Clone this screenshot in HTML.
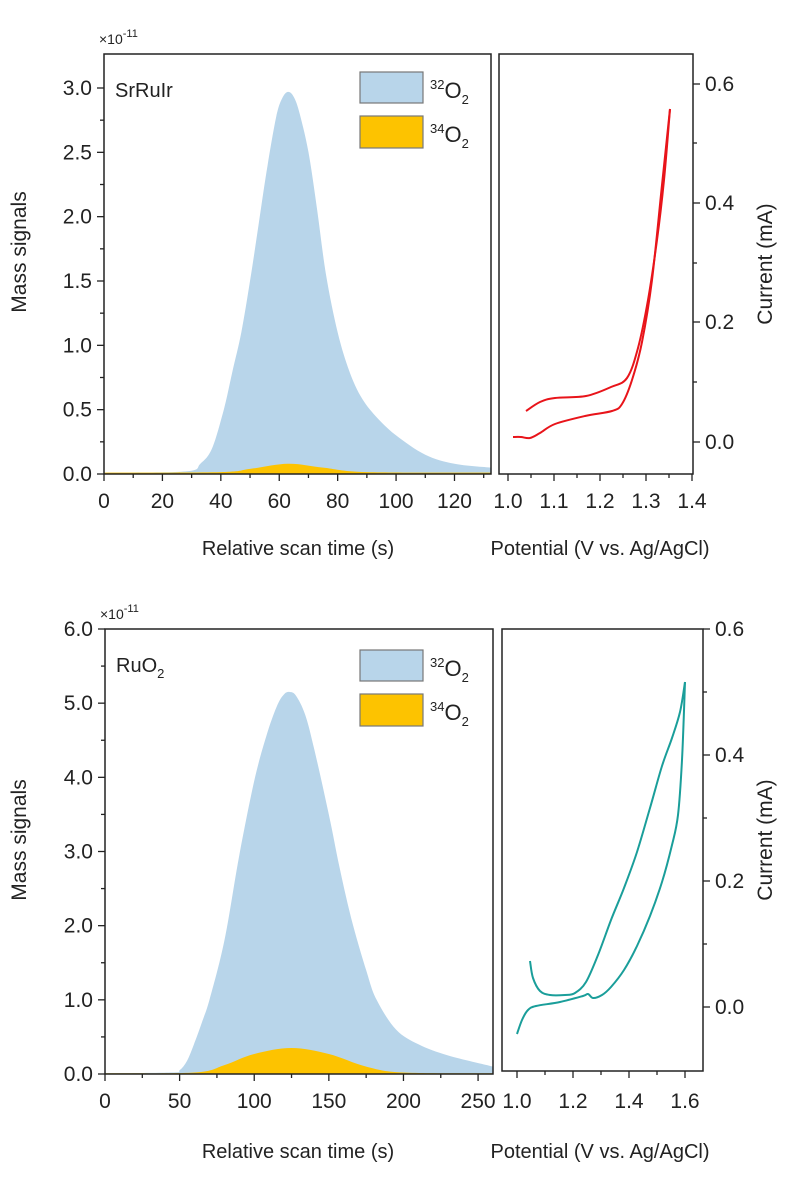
<!DOCTYPE html>
<html><head><meta charset="utf-8"><style>
html,body{margin:0;padding:0;background:#fff;width:799px;height:1178px;overflow:hidden}
svg text{font-family:"Liberation Sans","DejaVu Sans",sans-serif;fill:#222}
</style></head><body>
<svg id="s" width="799" height="1178" viewBox="0 0 799 1178" xmlns="http://www.w3.org/2000/svg"></svg>
<script>
var s=document.getElementById('s'),h='';
function T(x,y,t,sz,anch,extra){h+='<text x="'+x+'" y="'+y+'" font-size="'+sz+'" text-anchor="'+(anch||'start')+'" '+(extra||'')+'>'+t+'</text>';}
function L(x1,y1,x2,y2,w){h+='<line x1="'+x1+'" y1="'+y1+'" x2="'+x2+'" y2="'+y2+'" stroke="#222" stroke-width="'+(w||1.3)+'"/>';}
function cr(P){var d='';for(var i=0;i<P.length-1;i++){var p0=P[i-1]||P[i],p1=P[i],p2=P[i+1],p3=P[i+2]||P[i+1];
 var c1=[p1[0]+(p2[0]-p0[0])/6,p1[1]+(p2[1]-p0[1])/6],c2=[p2[0]-(p3[0]-p1[0])/6,p2[1]-(p3[1]-p1[1])/6];
 d+=' C'+c1[0].toFixed(1)+','+c1[1].toFixed(1)+' '+c2[0].toFixed(1)+','+c2[1].toFixed(1)+' '+p2[0].toFixed(1)+','+p2[1].toFixed(1);}return d;}
function area(pts,fx,fy,y0,fill){var P=pts.map(function(p){return [fx(p[0]),fy(p[1])]});var d='M'+P[0][0]+','+y0+' L'+P[0][0]+','+P[0][1]+cr(P)+' L'+P[P.length-1][0]+','+y0+'Z';h+='<path d="'+d+'" fill="'+fill+'"/>';}
function curve(P,col){var d='M'+P[0][0]+','+P[0][1]+cr(P);h+='<path d="'+d+'" fill="none" stroke="'+col+'" stroke-width="2" stroke-linejoin="round"/>';}
function panel(o){
 var fx=function(t){return o.L+(t-0)*(o.R-o.L)/o.tmax},fy=function(v){return o.B-v*(o.B-o.Ytop)/o.vmax};
 area(o.blue,fx,fy,o.B,'#b8d5ea');area(o.orange,fx,fy,o.B,'#fdc300');
 h+='<rect x="'+o.L+'" y="'+o.T+'" width="'+(o.R-o.L)+'" height="'+(o.B-o.T)+'" fill="none" stroke="#222" stroke-width="1.5"/>';
 o.yt.forEach(function(v){var y=fy(v);L(o.L-7,y,o.L,y);T(o.L-12,y+7,v.toFixed(1),21,'end');});
 o.yt2.forEach(function(v){L(o.L-4,fy(v),o.L,fy(v))});
 o.xt.forEach(function(t){var x=fx(t);L(x,o.B,x,o.B+7);T(x,o.B+34,t,21,'middle');});
 o.xt2.forEach(function(t){L(fx(t),o.B,fx(t),o.B+4)});
 T(o.L-5,o.T-10,'×10<tspan dy="-7" font-size="11">-11</tspan>',14,'start');
 T(26,o.yl,'Mass signals',21,'middle','transform="rotate(-90 26 '+o.yl+')"');
 T(298,o.xl,'Relative scan time (s)',20,'middle');
 T(o.L+11,o.lab[1],o.lab[0],20);
 h+='<rect x="360" y="'+o.leg+'" width="63" height="31" fill="#b8d5ea" stroke="#777" stroke-width="1.2"/>';
 h+='<rect x="360" y="'+(o.leg+44)+'" width="63" height="32" fill="#fdc300" stroke="#777" stroke-width="1.2"/>';
 T(430,o.leg+26,'<tspan dy="-9" font-size="13">32</tspan><tspan dy="9">O</tspan><tspan dy="6" font-size="13">2</tspan>',22);
 T(430,o.leg+70,'<tspan dy="-9" font-size="13">34</tspan><tspan dy="9">O</tspan><tspan dy="6" font-size="13">2</tspan>',22);
 var r=o.rp;
 h+='<rect x="'+r.L+'" y="'+o.T+'" width="'+(r.R-r.L)+'" height="'+(r.B-o.T)+'" fill="none" stroke="#222" stroke-width="1.5"/>';
 r.xt.forEach(function(p){L(p[0],r.B,p[0],r.B+7);T(p[0],o.B+34,p[1],21,'middle');});
 r.xt2.forEach(function(x){L(x,r.B,x,r.B+4)});
 r.yt.forEach(function(p){L(r.R,p[0],r.R+7,p[0]);T(r.R+12,p[0]+7,p[1],21,'start');});
 r.yt2.forEach(function(y){L(r.R,y,r.R+4,y)});
 T(600,o.xl,'Potential (V vs. Ag/AgCl)',20,'middle');
 T(772,r.yl,'Current (mA)',21,'middle','transform="rotate(-90 772 '+r.yl+')"');
 curve(r.c1,r.col);curve(r.c2,r.col);
}
panel({L:104,R:491,T:54,B:474,Ytop:88,vmax:3.0,tmax:132.5,
 yt:[0,0.5,1,1.5,2,2.5,3],yt2:[0.25,0.75,1.25,1.75,2.25,2.75],
 xt:[0,20,40,60,80,100,120],xt2:[10,30,50,70,90,110,130],yl:252,xl:555,lab:['SrRuIr',97],leg:72,
 blue:[[0,0.01],[28,0.02],[33,0.08],[37,0.2],[41,0.5],[44,0.8],[47,1.1],[50,1.5],[53,1.95],[56,2.4],[59,2.78],[61,2.92],[63,2.97],[65,2.93],[67,2.8],[70,2.5],[73,2.05],[76,1.55],[80,1.1],[84,0.8],[88,0.6],[93,0.45],[100,0.3],[110,0.15],[120,0.08],[132.5,0.05]],
 orange:[[0,0.01],[40,0.015],[50,0.04],[63,0.08],[75,0.05],[90,0.015],[132.5,0.01]],
 rp:{L:499,R:693,B:474,col:'#e8141a',yl:264,
  xt:[[508,'1.0'],[554,'1.1'],[600,'1.2'],[646,'1.3'],[692,'1.4']],xt2:[531,577,623,669],
  yt:[[84,'0.6'],[203,'0.4'],[322,'0.2'],[442,'0.0']],yt2:[143,263,382],
  c1:[[513,437],[521,437],[530,438],[540,433],[555,424],[585,416],[612,411],[622,404],[632,380],[642,342],[652,280],[662,185],[670,109]],
  c2:[[670,109],[664,180],[657,240],[648,300],[638,348],[627,378],[611,387],[586,396],[555,398],[540,402],[526,411]]}});
panel({L:105,R:493,T:629,B:1074,Ytop:629,vmax:6.0,tmax:260,
 yt:[0,1,2,3,4,5,6],yt2:[0.5,1.5,2.5,3.5,4.5,5.5],
 xt:[0,50,100,150,200,250],xt2:[25,75,125,175,225],yl:840,xl:1158,lab:['RuO<tspan dy="6" font-size="13">2</tspan>',672],leg:650,
 blue:[[0,0.01],[45,0.02],[50,0.05],[55,0.18],[60,0.42],[65,0.7],[70,1.0],[80,1.8],[90,2.95],[100,3.95],[108,4.55],[115,4.95],[120,5.12],[124,5.15],[128,5.1],[134,4.85],[140,4.4],[150,3.5],[157,2.8],[165,2.1],[175,1.4],[182,1.0],[195,0.6],[210,0.4],[230,0.25],[260,0.1]],
 orange:[[0,0.01],[60,0.02],[80,0.12],[100,0.27],[125,0.35],[150,0.27],[175,0.1],[200,0.02],[260,0.01]],
 rp:{L:502,R:703,B:1071,col:'#1a9e9a',yl:840,
  xt:[[517,'1.0'],[573,'1.2'],[629,'1.4'],[685,'1.6']],xt2:[545,601,657],
  yt:[[629,'0.6'],[755,'0.4'],[881,'0.2'],[1007,'0.0']],yt2:[692,818,944],
  c1:[[517,1034],[522,1020],[528,1010],[536,1006],[560,1002],[583,996],[588,994],[593,998],[602,995],[611,987],[624,970],[637,946],[650,916],[662,882],[672,845],[678,815],[682,760],[685,682]],
  c2:[[685,682],[680,712],[672,738],[662,766],[650,808],[637,852],[624,888],[611,920],[598,955],[586,982],[575,993],[565,995],[550,995],[540,991],[533,978],[530,961]]}});
s.innerHTML=h;
</script>
</body></html>
